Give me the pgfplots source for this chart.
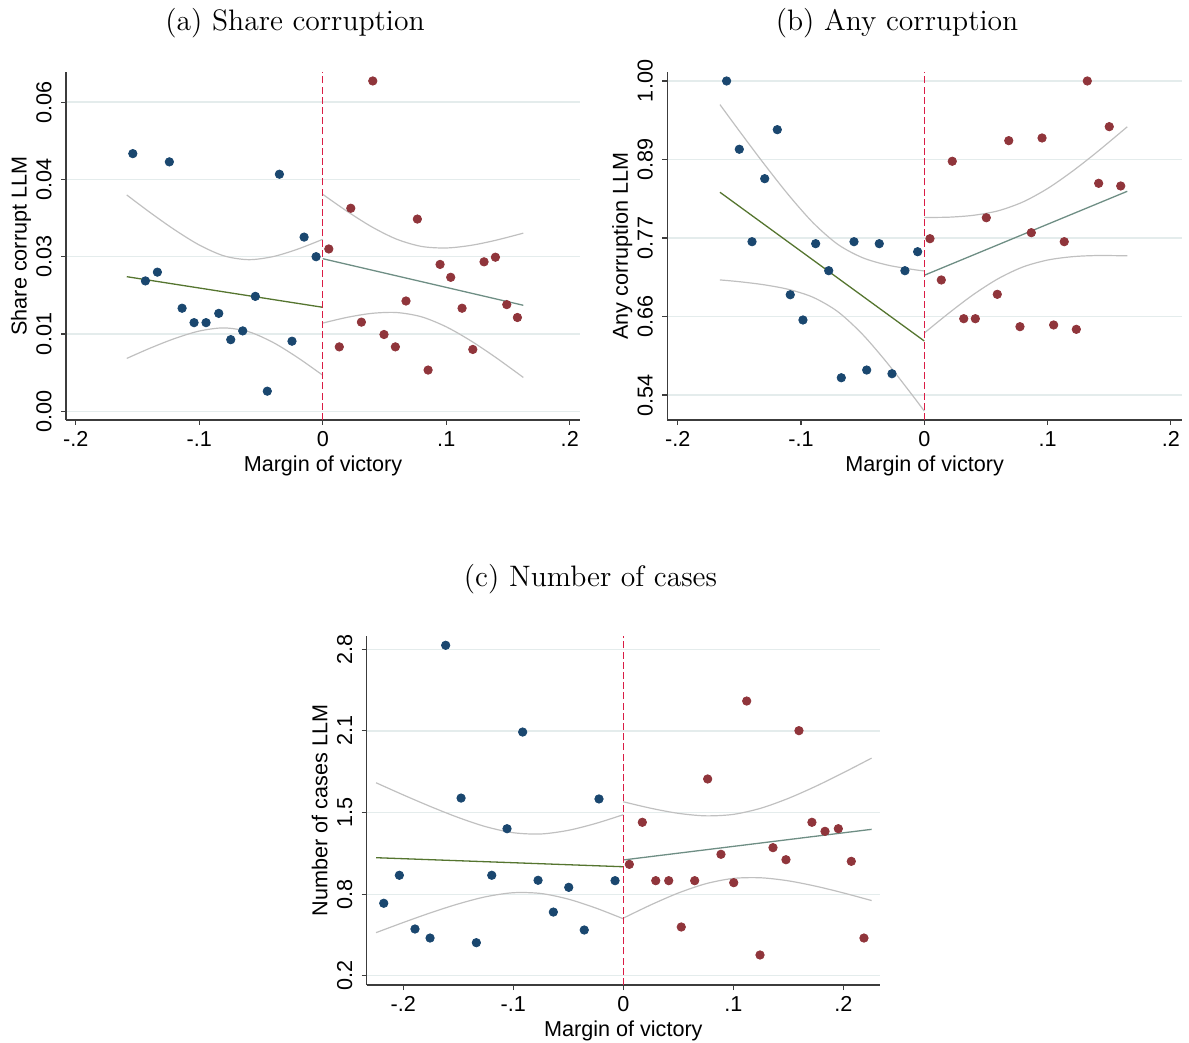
\documentclass[border=0pt]{standalone}
\usepackage{fontspec}
\newfontfamily\sansfont{Liberation Sans}
\usepackage{pgfplots}
\pgfplotsset{compat=1.18}

\definecolor{navy}{RGB}{26,71,111}
\definecolor{maroon}{RGB}{144,53,59}
\definecolor{fgreen}{RGB}{85,117,47}
\definecolor{steel}{RGB}{110,142,132}
\definecolor{cigray}{RGB}{192,192,192}
\definecolor{cutred}{RGB}{218,28,68}
\definecolor{gridc}{RGB}{228,236,236}
\definecolor{axc}{RGB}{60,60,60}

\pgfplotsset{
  stata/.style={
    scale only axis,
    axis lines=left,
    axis line style={-, draw=axc, line width=0.55pt},
    tick align=outside,
    major tick length=2.5pt,
    tick style={axc, line width=0.55pt},
    ymajorgrids,
    grid style={gridc, line width=0.6pt},
    scaled ticks=false,
    tick label style={font=\sansfont\fontsize{10.8}{13}\selectfont},
    label style={font=\sansfont\fontsize{10.8}{13}\selectfont},
    xtick={-0.2,-0.1,0,0.1,0.2},
    xticklabels={-.2,-.1,0,.1,.2},
    xticklabel style={anchor=base, yshift=-10.9pt},
    yticklabel style={xshift=-4.8pt, rotate=90, anchor=base},
    xlabel={Margin of victory},
    xlabel style={at={(axis description cs:0.5,0)}, anchor=base, yshift=-25.75pt},
    ylabel style={at={(axis description cs:-0.0765,0.5)}, anchor=base},
    clip=false,
  },
  dots/.style={only marks, mark=*, mark size=2.1pt},
  ci/.style={cigray, line width=0.6pt, smooth, no marks},
  fit/.style={line width=0.65pt, no marks},
  cut/.style={cutred, line width=0.7pt, dash pattern=on 3.5pt off 1.6pt, no marks},
}

\begin{document}
\begin{tikzpicture}
\useasboundingbox (0,0) rectangle (594.5pt,-521.5pt);

% ---------------- (a) ----------------
\begin{axis}[stata, at={(33pt,-36pt)}, anchor=north west,
  width=257pt, height=174pt,
  xmin=-0.2079, xmax=0.2083, ymin=-0.00169, ymax=0.06584,
  ytick={0,0.015,0.03,0.045,0.06},
  yticklabels={0.00,0.01,0.03,0.04,0.06},
  ylabel={Share corrupt LLM}]
\addplot[ci] coordinates {(-0.1587,0.04198) (-0.14,0.03861) (-0.12,0.03523) (-0.10,0.03227) (-0.08,0.03016) (-0.06,0.02942) (-0.04,0.03003) (-0.02,0.03149) (0,0.03337)};
\addplot[ci] coordinates {(-0.1587,0.01026) (-0.14,0.01223) (-0.12,0.01411) (-0.10,0.01557) (-0.08,0.01618) (-0.06,0.01544) (-0.04,0.01333) (-0.02,0.01037) (0,0.00699)};
\addplot[ci] coordinates {(0,0.04210) (0.02,0.03876) (0.04,0.03575) (0.06,0.03338) (0.08,0.03199) (0.10,0.03169) (0.12,0.03220) (0.14,0.03318) (0.1624,0.03457)};
\addplot[ci] coordinates {(0,0.01712) (0.02,0.01824) (0.04,0.01901) (0.06,0.01916) (0.08,0.01833) (0.10,0.01639) (0.12,0.01366) (0.14,0.01046) (0.1624,0.00657)};
\addplot[fit, fgreen] coordinates {(-0.1587,0.02612) (0,0.02018)};
\addplot[fit, steel] coordinates {(0,0.02961) (0.1624,0.02057)};
\addplot[dots, navy] coordinates {(-0.1538,0.0500) (-0.1242,0.0484) (-0.0351,0.0460) (-0.0151,0.0338) (-0.0054,0.0300) (-0.1436,0.0253) (-0.1339,0.0270) (-0.0546,0.0223) (-0.1139,0.0200) (-0.1042,0.0172) (-0.0945,0.0172) (-0.0842,0.0190) (-0.0648,0.0156) (-0.0745,0.0139) (-0.0249,0.0136) (-0.0449,0.0039)};
\addplot[dots, maroon] coordinates {(0.0405,0.0641) (0.0227,0.0394) (0.0766,0.0373) (0.0049,0.0315) (0.0950,0.0285) (0.1036,0.0260) (0.1306,0.0290) (0.1398,0.0299) (0.0674,0.0214) (0.1128,0.0200) (0.1490,0.0207) (0.1576,0.0182) (0.0313,0.0173) (0.0496,0.0149) (0.0134,0.0125) (0.0588,0.0125) (0.1215,0.0120) (0.0853,0.0080)};
\addplot[cut] coordinates {(0,-0.00169) (0,0.06584)};
\end{axis}

% ---------------- (b) ----------------
\begin{axis}[stata, at={(333.65pt,-35.85pt)}, anchor=north west,
  width=257.35pt, height=174.15pt,
  xmin=-0.2084, xmax=0.2090, ymin=0.5034, ymax=1.0136,
  ytick={0.54,0.655,0.77,0.885,1.0},
  yticklabels={0.54,0.66,0.77,0.89,1.00},
  ylabel={Any corruption LLM}]
\addplot[ci] coordinates {(-0.1657,0.9654) (-0.15,0.9268) (-0.13,0.8787) (-0.11,0.8329) (-0.09,0.7920) (-0.07,0.7605) (-0.05,0.7411) (-0.03,0.7304) (-0.01,0.7241) (0,0.7217)};
\addplot[ci] coordinates {(-0.1657,0.7086) (-0.15,0.7060) (-0.13,0.7015) (-0.11,0.6947) (-0.09,0.6830) (-0.07,0.6619) (-0.05,0.6287) (-0.03,0.5868) (-0.01,0.5405) (0,0.5165)};
\addplot[ci] coordinates {(0,0.8001) (0.02,0.8005) (0.04,0.8033) (0.06,0.8099) (0.08,0.8228) (0.10,0.8425) (0.12,0.8676) (0.14,0.8958) (0.1646,0.9329)};
\addplot[ci] coordinates {(0,0.6308) (0.02,0.6601) (0.04,0.6874) (0.06,0.7105) (0.08,0.7276) (0.10,0.7377) (0.12,0.7426) (0.14,0.7443) (0.1646,0.7439)};
\addplot[fit, fgreen] coordinates {(-0.1657,0.8370) (0,0.6191)};
\addplot[fit, steel] coordinates {(0,0.7154) (0.1646,0.8384)};
\addplot[dots, navy] coordinates {(-0.1603,1.000) (-0.1500,0.900) (-0.1192,0.9287) (-0.1294,0.8569) (-0.1397,0.7646) (-0.0881,0.7617) (-0.0570,0.7646) (-0.0365,0.7617) (-0.0054,0.7499) (-0.0775,0.7221) (-0.0157,0.7221) (-0.1087,0.6869) (-0.0984,0.6499) (-0.0673,0.5653) (-0.0467,0.5766) (-0.0262,0.5712)};
\addplot[dots, maroon] coordinates {(0.1322,1.000) (0.1500,0.9331) (0.0685,0.9126) (0.0955,0.9165) (0.0227,0.8824) (0.1414,0.8501) (0.1593,0.8462) (0.0503,0.7997) (0.0046,0.7690) (0.0868,0.7778) (0.1135,0.7646) (0.0138,0.7085) (0.0592,0.6875) (0.0320,0.6518) (0.0414,0.6518) (0.0776,0.6401) (0.1049,0.6426) (0.1233,0.6362)};
\addplot[cut] coordinates {(0,0.5034) (0,1.0136)};
\end{axis}

% ---------------- (c) ----------------
\begin{axis}[stata, at={(183.35pt,-318pt)}, anchor=north west,
  width=256.65pt, height=174.5pt,
  xmin=-0.2333, xmax=0.2334, ymin=0.1259, ymax=2.906,
  ytick={0.2,0.85,1.5,2.15,2.8},
  yticklabels={0.2,0.8,1.5,2.1,2.8},
  ylabel={Number of cases LLM}]
\addplot[ci] coordinates {(-0.2248,1.737) (-0.20,1.640) (-0.175,1.5465) (-0.15,1.460) (-0.125,1.387) (-0.10,1.339) (-0.075,1.329) (-0.05,1.358) (-0.025,1.413) (0,1.4825)};
\addplot[ci] coordinates {(-0.2248,0.543) (-0.20,0.624) (-0.175,0.7017) (-0.15,0.772) (-0.125,0.829) (-0.10,0.861) (-0.075,0.855) (-0.05,0.810) (-0.025,0.739) (0,0.6535)};
\addplot[ci] coordinates {(0,1.5855) (0.025,1.534) (0.05,1.4934) (0.075,1.4734) (0.10,1.485) (0.125,1.534) (0.15,1.6124) (0.175,1.709) (0.20,1.8166) (0.2258,1.9335)};
\addplot[ci] coordinates {(0,0.6585) (0.025,0.764) (0.05,0.8586) (0.075,0.9326) (0.10,0.975) (0.125,0.980) (0.15,0.9558) (0.175,0.913) (0.20,0.8596) (0.2258,0.7985)};
\addplot[fit, fgreen] coordinates {(-0.2248,1.140) (0,1.068)};
\addplot[fit, steel] coordinates {(0,1.122) (0.2258,1.366)};
\addplot[dots, navy] coordinates {(-0.1615,2.832) (-0.0915,2.141) (-0.1475,1.615) (-0.0221,1.608) (-0.1057,1.371) (-0.2036,1.000) (-0.1196,1.000) (-0.0775,0.960) (-0.0075,0.957) (-0.0496,0.904) (-0.2178,0.777) (-0.0636,0.707) (-0.1894,0.572) (-0.0355,0.564) (-0.1757,0.500) (-0.1336,0.463)};
\addplot[dots, maroon] coordinates {(0.1122,2.388) (0.1597,2.152) (0.0767,1.767) (0.0173,1.422) (0.1715,1.422) (0.1834,1.350) (0.1955,1.371) (0.1361,1.220) (0.0888,1.167) (0.1479,1.124) (0.2073,1.111) (0.0055,1.087) (0.0295,0.957) (0.0413,0.957) (0.0649,0.957) (0.1004,0.941) (0.0527,0.588) (0.2188,0.500) (0.1243,0.365)};
\addplot[cut] coordinates {(0,0.1259) (0,2.906)};
\end{axis}

% ---------------- titles ----------------
\node[font=\fontsize{14.8}{17}\selectfont, anchor=base] at (147.5pt,-15.5pt) {(a) Share corruption};
\node[font=\fontsize{14.8}{17}\selectfont, anchor=base] at (448.5pt,-15.5pt) {(b) Any corruption};
\node[font=\fontsize{14.8}{17}\selectfont, anchor=base] at (295.25pt,-293pt) {(c) Number of cases};
\end{tikzpicture}
\end{document}
